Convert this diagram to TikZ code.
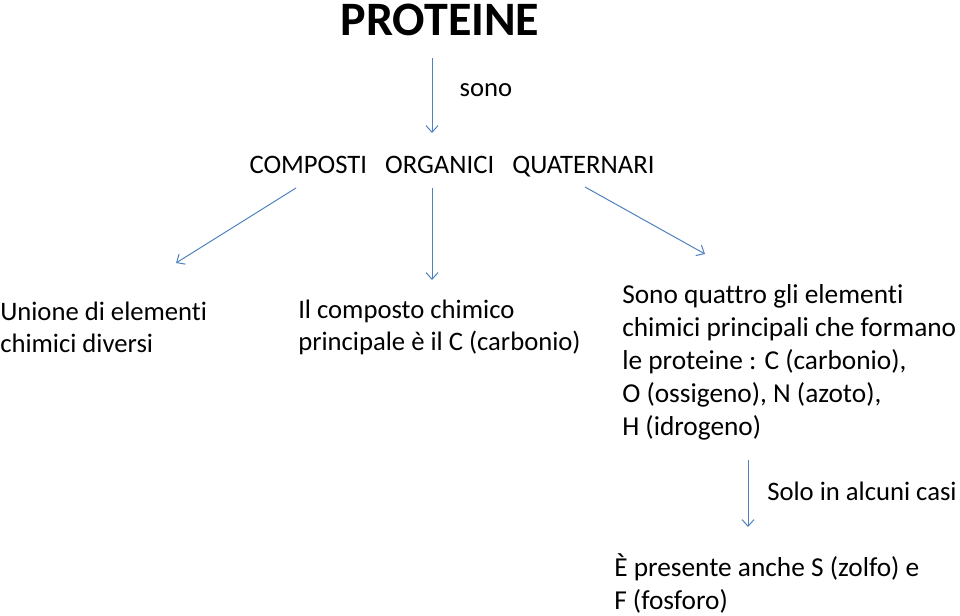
\documentclass[tikz,border=0pt]{standalone}
\usepackage{fontspec}
\setmainfont{Carlito}[Ligatures=NoCommon]
\usepackage{tikz}
\usetikzlibrary{arrows.meta,calc}
\definecolor{arrowblue}{HTML}{4F81BD}

\begin{document}
\begin{tikzpicture}[x=0.75pt, y=-0.75pt,
	link/.style={draw=arrowblue, line width=0.75pt, -{Straight Barb[length=5pt,width=9pt]}},
	lbl/.style={inner sep=0pt, align=left, font=\fontsize{20}{24}\selectfont},
	big/.style={inner sep=0pt, align=left, font=\fontsize{20.5}{24.75}\selectfont}]
	\useasboundingbox (0,0) rectangle (960,616);
	% titolo e livelli
	\node[inner sep=0pt, font=\fontsize{36}{40}\selectfont\bfseries] (prot) at (440,20) {PROTEINE};
	\node[lbl] (sono) at (486,90) {sono};
	\node[lbl] (comp) at (452,167) {COMPOSTI~~~ORGANICI~~~QUATERNARI};
	\node[lbl, anchor=west] (unione) at (0,327) {Unione di elementi\\chimici diversi};
	\node[lbl, anchor=west] (carb) at (298,327) {Il composto chimico\\principale è il C (carbonio)};
	\node[big, anchor=west] (quattro) at (622,362) {Sono quattro gli elementi\\chimici principali che formano\\le proteine : C (carbonio),\\O (ossigeno), N (azoto),\\H (idrogeno)};
	\node[lbl, anchor=west] (alcuni) at (767,491) {Solo in alcuni casi};
	\node[big, anchor=west] (zolfo) at (614,583) {È presente anche S (zolfo) e\\F (fosforo)};
	% frecce
	\draw[link] ($(prot.center)+(-8,38)$) -- ($(comp.center)+(-20,-34)$);
	\draw[link] ($(comp.center)+(-156,21)$) -- ($(unione.west)+(176,-64)$);
	\draw[link] ($(comp.center)+(-20,21)$) -- ($(carb.west)+(134,-47)$);
	\draw[link] ($(comp.center)+(133,20)$) -- ($(quattro.west)+(83,-108)$);
	\draw[link] ($(quattro.west)+(126,98)$) -- ($(zolfo.west)+(134,-56)$);
\end{tikzpicture}
\end{document}
